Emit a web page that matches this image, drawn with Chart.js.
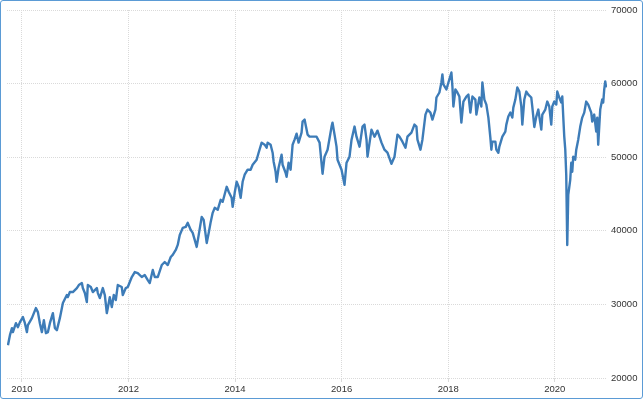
<!DOCTYPE html>
<html><head><meta charset="utf-8">
<script src="https://cdn.jsdelivr.net/npm/chart.js@4/dist/chart.umd.min.js"></script>
<style>
html,body{margin:0;padding:0;background:#fff;}
#wrap{position:relative;width:643px;height:399px;}
#frame{position:absolute;left:0;top:0;width:643px;height:399px;box-sizing:border-box;border:1px solid #5b9bd5;border-radius:3px;pointer-events:none;}
canvas{position:absolute;left:0;top:0;}
</style></head><body>
<div id="wrap"><canvas id="c" width="643" height="399"></canvas><div id="frame"></div></div>
<script>
const years = [
2009.738,2009.775,2009.813,2009.831,2009.888,2009.925,2009.963,2010.019,2010.056,2010.094,
2010.112,2010.187,2010.262,2010.300,2010.337,2010.375,2010.412,2010.450,2010.487,2010.525,
2010.581,2010.619,2010.656,2010.712,2010.769,2010.843,2010.862,2010.900,2010.956,2011.031,
2011.068,2011.125,2011.143,2011.181,2011.218,2011.237,2011.293,2011.331,2011.406,2011.425,
2011.462,2011.518,2011.556,2011.593,2011.612,2011.649,2011.687,2011.724,2011.762,2011.799,
2011.874,2011.893,2011.949,2011.987,2012.062,2012.118,2012.174,2012.249,2012.306,2012.362,
2012.399,2012.456,2012.493,2012.549,2012.624,2012.680,2012.737,2012.793,2012.830,2012.887,
2012.924,2012.962,2013.018,2013.074,2013.112,2013.168,2013.205,2013.243,2013.280,2013.318,
2013.374,2013.411,2013.468,2013.505,2013.543,2013.580,2013.618,2013.674,2013.730,2013.768,
2013.843,2013.880,2013.936,2013.955,2013.993,2014.030,2014.067,2014.105,2014.142,2014.180,
2014.236,2014.292,2014.330,2014.405,2014.442,2014.499,2014.555,2014.592,2014.611,2014.667,
2014.705,2014.724,2014.761,2014.780,2014.817,2014.873,2014.892,2014.948,2014.967,2015.005,
2015.042,2015.080,2015.117,2015.155,2015.192,2015.248,2015.267,2015.305,2015.323,2015.361,
2015.398,2015.473,2015.530,2015.586,2015.642,2015.679,2015.736,2015.811,2015.829,2015.867,
2015.904,2015.923,2015.998,2016.054,2016.092,2016.148,2016.186,2016.242,2016.279,2016.336,
2016.392,2016.429,2016.467,2016.486,2016.560,2016.617,2016.673,2016.748,2016.804,2016.860,
2016.935,2016.992,2017.048,2017.085,2017.141,2017.198,2017.235,2017.310,2017.366,2017.404,
2017.423,2017.479,2017.516,2017.573,2017.610,2017.666,2017.704,2017.760,2017.779,2017.835,
2017.872,2017.891,2017.910,2017.966,2018.004,2018.060,2018.079,2018.097,2018.135,2018.172,
2018.210,2018.247,2018.285,2018.341,2018.379,2018.416,2018.454,2018.510,2018.529,2018.585,
2018.622,2018.641,2018.679,2018.716,2018.754,2018.791,2018.810,2018.828,2018.885,2018.903,
2018.941,2018.960,2019.016,2019.072,2019.091,2019.128,2019.166,2019.203,2019.222,2019.260,
2019.297,2019.335,2019.372,2019.391,2019.428,2019.466,2019.503,2019.559,2019.578,2019.616,
2019.653,2019.691,2019.747,2019.766,2019.822,2019.859,2019.897,2019.934,2019.953,2019.991,
2020.028,2020.047,2020.084,2020.122,2020.141,2020.159,2020.178,2020.197,2020.215,2020.234,
2020.253,2020.290,2020.309,2020.328,2020.347,2020.384,2020.403,2020.440,2020.478,2020.515,
2020.553,2020.590,2020.628,2020.684,2020.703,2020.740,2020.778,2020.797,2020.815,2020.853,
2020.890,2020.909,2020.928,2020.947,2020.965
];
const values = [
24460,25820,26770,26230,27450,26910,27590,28270,27450,26230,
27180,28130,29500,28950,27450,26230,27860,26090,26230,27450,
28810,26770,26500,28130,30180,31270,30990,31680,31680,32220,
32630,32900,32220,31540,30310,32630,32360,31680,32220,31540,
30860,32220,31270,28810,29500,30990,29630,31270,30590,32630,
32360,31270,32220,32360,33720,34400,34260,33720,33990,33310,
32900,34670,33720,33720,35350,35760,35350,36440,36720,37400,
38080,39440,40400,40530,41080,40120,39710,38760,37810,39440,
41890,41490,38350,39710,41210,42440,43120,42850,44210,43940,
45980,45300,44480,43260,45160,46660,45980,44480,46660,47620,
48300,48300,48980,49660,50610,51980,51700,51290,51980,51700,
50610,49390,48020,46660,48570,50340,48980,47890,47340,49250,
48300,51700,52380,53200,51980,53340,54840,55110,54430,53070,
52790,52790,52790,51980,47750,50070,51020,54160,54700,53070,
51430,49660,48300,46250,49250,50070,52380,54160,52790,51430,
54160,54430,52380,50070,53750,52790,53610,51980,51020,50610,
49110,50070,53070,52790,52110,51290,52790,53340,54430,54160,
52380,51020,52380,55790,56470,56060,55110,56470,58110,58790,
60150,61240,59880,59200,60150,61510,59600,56880,59200,58790,
58240,54700,57560,58240,58510,56060,58240,57830,55790,58110,
56880,60150,57830,57150,55380,52660,51020,52110,52110,51020,
50610,51430,52790,53470,54430,55520,56060,55380,56740,57830,
59470,58920,56880,54430,57830,58920,58510,58110,56880,54110,
55520,56470,53750,55790,56470,57560,56880,54430,56880,57560,
57150,58920,58110,57430,58240,55520,52790,51020,47620,38080,
44890,46930,49250,48020,50070,49660,51020,52380,54160,55380,
56060,57560,57150,56060,54840,55790,53470,55380,51700,56470,
57830,57430,59200,60290,59470
];
const xTickYears = [2010, 2012, 2014, 2016, 2018, 2020];
const yTickValues = [20000, 30000, 40000, 50000, 60000, 70000];

const tickFont = {family: "'Liberation Sans', Arial, sans-serif", size: 9.5};
new Chart(document.getElementById('c').getContext('2d'), {
  type: 'line',
  data: {
    datasets: [{
      data: years.map((yr, i) => ({x: yr, y: values[i]})),
      borderColor: '#3d7cb8',
      borderWidth: 2.4,
      borderJoinStyle: 'round',
      pointRadius: 0,
      tension: 0,
      fill: false
    }]
  },
  options: {
    responsive: false,
    animation: false,
    devicePixelRatio: 1,
    layout: {padding: {left: 7, top: 10, right: 0, bottom: 0}},
    plugins: {legend: {display: false}, tooltip: {enabled: false}},
    scales: {
      x: {
        type: 'linear',
        min: 2009.72,
        max: 2020.98,
        afterBuildTicks: s => { s.ticks = xTickYears.map(v => ({value: v})); },
        afterFit: s => { s.height = 21; },
        grid: {color: '#dadada', lineWidth: 1, tickLength: 4, drawTicks: true},
        border: {display: false, dash: [1, 1]},
        ticks: {color: '#333', font: tickFont, padding: 2, maxRotation: 0, autoSkip: false, callback: v => String(v)}
      },
      y: {
        position: 'right',
        min: 20000,
        max: 70000,
        afterBuildTicks: s => { s.ticks = yTickValues.map(v => ({value: v})); },
        afterFit: s => { s.width = 36; },
        grid: {color: '#dadada', lineWidth: 1, drawTicks: false},
        border: {display: false, dash: [1, 1]},
        ticks: {color: '#333', font: tickFont, padding: 4, callback: v => String(v)}
      }
    }
  }
});
</script>
</body></html>
